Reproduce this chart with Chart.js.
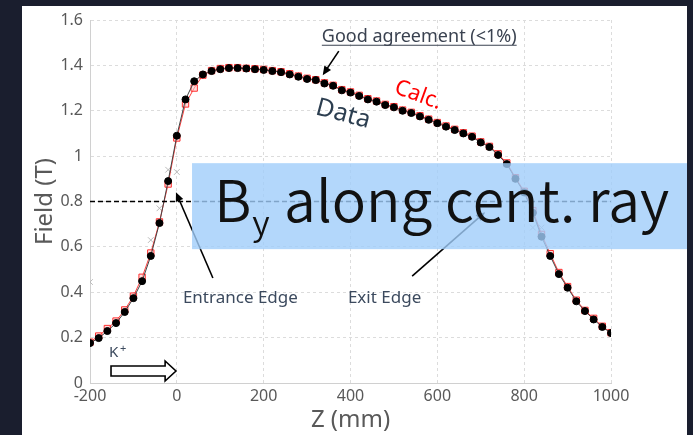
<!DOCTYPE html>
<html lang="en">
<head>
<meta charset="UTF-8">
<title>By along cent. ray</title>
<style>
  body { margin: 0; background: #1a1e2e; }
  canvas { display: block; }
</style>
<script src="https://cdn.jsdelivr.net/npm/chart.js"></script>
</head>
<body>
<canvas id="chart" width="693" height="435"></canvas>
<script>
// Z positions (mm) of the measured / calculated points
const zPos = [-200, -180, -160, -140, -120, -100, -80, -60, -40, -20,
  0, 20, 40, 60, 80, 100, 120, 140, 160, 180,
  200, 220, 240, 260, 280, 300, 320, 340, 360, 380,
  400, 420, 440, 460, 480, 500, 520, 540, 560, 580,
  600, 620, 640, 660, 680, 700, 720, 740, 760, 780,
  800, 820, 840, 860, 880, 900, 920, 940, 960, 980, 1000];

// measured field (T)
const dataField = [0.176, 0.198, 0.229, 0.264, 0.313, 0.374, 0.449, 0.56, 0.705, 0.89,
  1.09, 1.25, 1.33, 1.36, 1.375, 1.383, 1.388, 1.388, 1.386, 1.383,
  1.38, 1.375, 1.37, 1.36, 1.35, 1.34, 1.335, 1.32, 1.31, 1.29,
  1.28, 1.265, 1.25, 1.24, 1.225, 1.215, 1.20, 1.19, 1.175, 1.16,
  1.145, 1.13, 1.115, 1.10, 1.085, 1.06, 1.04, 1.005, 0.965, 0.90,
  0.84, 0.75, 0.645, 0.56, 0.48, 0.42, 0.36, 0.317, 0.28, 0.247, 0.22];

// calculated field (T)
const calcField = [0.18, 0.207, 0.24, 0.273, 0.322, 0.383, 0.466, 0.573, 0.71, 0.877,
  1.08, 1.23, 1.30, 1.357, 1.377, 1.386, 1.39, 1.39, 1.387, 1.385,
  1.382, 1.377, 1.372, 1.363, 1.353, 1.343, 1.337, 1.323, 1.312, 1.293,
  1.283, 1.268, 1.253, 1.243, 1.228, 1.218, 1.203, 1.193, 1.178, 1.163,
  1.148, 1.133, 1.118, 1.103, 1.088, 1.063, 1.043, 1.01, 0.97, 0.905,
  0.845, 0.76, 0.655, 0.57, 0.487, 0.425, 0.365, 0.32, 0.285, 0.25, 0.222];

// faint grey crosses (older run)
const greyZ = [-200, -60, -40, -20, 0, 820, 840];
const greyField = [0.445, 0.63, 0.77, 0.94, 0.93, 0.685, 0.685];

const toPoints = (xs, ys) => xs.map((z, i) => ({ x: z, y: ys[i] }));

const decor = {
    id: 'decor',
    beforeDraw(chart) {
        const ctx = chart.ctx;
        ctx.save();
        ctx.fillStyle = '#1a1e2e';
        ctx.fillRect(0, 0, chart.width, chart.height);
        ctx.fillStyle = '#ffffff';
        ctx.fillRect(22, 6, 665, chart.height - 6);
        ctx.restore();
    },
    afterDatasetsDraw(chart) {
        const { ctx, scales: { x, y } } = chart;
        const X = v => x.getPixelForValue(v);
        const Y = v => y.getPixelForValue(v);

        function arrow(x1, y1, x2, y2) {
            const a = Math.atan2(y2 - y1, x2 - x1);
            ctx.beginPath();
            ctx.moveTo(x1, y1);
            ctx.lineTo(x2 - 6 * Math.cos(a), y2 - 6 * Math.sin(a));
            ctx.stroke();
            ctx.beginPath();
            ctx.moveTo(x2, y2);
            ctx.lineTo(x2 - 9 * Math.cos(a) + 4 * Math.sin(a), y2 - 9 * Math.sin(a) - 4 * Math.cos(a));
            ctx.lineTo(x2 - 9 * Math.cos(a) - 4 * Math.sin(a), y2 - 9 * Math.sin(a) + 4 * Math.cos(a));
            ctx.closePath();
            ctx.fill();
        }

        ctx.save();
        // 0.8 T reference line
        ctx.strokeStyle = '#000';
        ctx.lineWidth = 1.5;
        ctx.setLineDash([5, 3]);
        ctx.beginPath();
        ctx.moveTo(X(-200), Y(0.8));
        ctx.lineTo(X(1000), Y(0.8));
        ctx.stroke();
        ctx.setLineDash([]);

        // arrows
        ctx.fillStyle = '#000';
        ctx.lineWidth = 1.6;
        arrow(X(373), Y(1.4626), X(336), Y(1.357));
        arrow(X(83), Y(0.4626), X(-2), Y(0.841));
        arrow(X(542), Y(0.471), X(710), Y(0.753));

        // labels
        ctx.font = '18px "Noto Sans"';
        ctx.fillStyle = '#3a4250';
        ctx.textBaseline = 'alphabetic';
        const ga = 'Good agreement (<1%)';
        const gx = X(334), gy = Y(1.502);
        ctx.fillText(ga, gx, gy);
        const gw = ctx.measureText(ga).width;
        ctx.strokeStyle = '#3a4250';
        ctx.lineWidth = 1.2;
        ctx.beginPath();
        ctx.moveTo(gx, gy + 3);
        ctx.lineTo(gx + gw, gy + 3);
        ctx.stroke();

        ctx.fillStyle = '#3c4a5e';
        ctx.font = '17px "Noto Sans"';
        ctx.fillText('Entrance Edge', X(14), Y(0.352));
        ctx.fillText('Exit Edge', X(394), Y(0.352));
        ctx.font = '15px "Noto Sans"';
        ctx.fillText('K', X(-156), Y(0.1145));
        ctx.font = '11px "Noto Sans"';
        ctx.fillText('+', X(-156) + 11, Y(0.1145) - 5);

        ctx.save();
        ctx.translate(X(556), Y(1.269));
        ctx.rotate(20 * Math.PI / 180);
        ctx.textAlign = 'center';
        ctx.textBaseline = 'middle';
        ctx.fillStyle = '#ff0000';
        ctx.font = '22px "Noto Sans"';
        ctx.fillText('Calc.', 0, 0);
        ctx.restore();

        ctx.save();
        ctx.translate(X(383), Y(1.185));
        ctx.rotate(15 * Math.PI / 180);
        ctx.textAlign = 'center';
        ctx.textBaseline = 'middle';
        ctx.fillStyle = '#2c3e50';
        ctx.font = '25px "Noto Sans"';
        ctx.fillText('Data', 0, 0);
        ctx.restore();

        // hollow K+ direction arrow
        const x0 = X(-151.6), xb = X(-27), xt = X(-2), yc = Y(0.053);
        ctx.beginPath();
        ctx.moveTo(x0, yc - 5);
        ctx.lineTo(xb, yc - 5);
        ctx.lineTo(xb, yc - 10);
        ctx.lineTo(xt, yc);
        ctx.lineTo(xb, yc + 10);
        ctx.lineTo(xb, yc + 5);
        ctx.lineTo(x0, yc + 5);
        ctx.closePath();
        ctx.fillStyle = '#fff';
        ctx.fill();
        ctx.strokeStyle = '#000';
        ctx.lineWidth = 1.6;
        ctx.stroke();

        // title box
        ctx.fillStyle = 'rgba(160, 205, 250, 0.8)';
        const bx = X(35), by = Y(0.969);
        ctx.fillRect(bx, by, chart.width - 6 - bx, Y(0.59) - by);
        ctx.fillStyle = '#111';
        ctx.font = '350 57px "Noto Sans CJK JP"';
        const bX = X(86), base = Y(0.709);
        ctx.fillText('B', bX, base);
        const bw = ctx.measureText('B').width;
        ctx.font = '350 34px "Noto Sans CJK JP"';
        ctx.fillText('y', bX + bw + 1, base + 13);
        ctx.font = '350 57px "Noto Sans CJK JP"';
        ctx.fillText('along cent. ray', X(247), base);
        ctx.restore();
    }
};

new Chart(document.getElementById('chart'), {
    type: 'line',
    data: {
        datasets: [
            {
                label: 'Data',
                data: toPoints(zPos, dataField),
                borderColor: '#444',
                borderWidth: 1,
                pointStyle: 'circle',
                pointRadius: 3.5,
                pointBackgroundColor: '#000',
                pointBorderColor: '#000',
                order: 1
            },
            {
                label: 'Calc.',
                data: toPoints(zPos, calcField),
                borderColor: '#ff4040',
                borderWidth: 1,
                pointStyle: 'rect',
                pointRadius: 4.5,
                pointBackgroundColor: 'rgba(255, 200, 200, 0.6)',
                pointBorderColor: '#ff3030',
                pointBorderWidth: 1,
                order: 2
            },
            {
                label: 'old',
                data: toPoints(greyZ, greyField),
                showLine: false,
                pointStyle: 'crossRot',
                pointRadius: 4,
                pointBorderColor: '#bbbbbb',
                pointBorderWidth: 1,
                order: 3
            }
        ]
    },
    options: {
        responsive: false,
        animation: false,
        devicePixelRatio: 1,
        layout: { padding: { left: 22, right: 82, top: 20, bottom: 0 } },
        plugins: { legend: { display: false }, tooltip: { enabled: false } },
        scales: {
            x: {
                type: 'linear',
                min: -200,
                max: 1000,
                afterFit: s => { s.height = 52; },
                ticks: {
                    stepSize: 200,
                    color: '#595959',
                    font: { family: 'Noto Sans', size: 16 },
                    padding: 4,
                    maxRotation: 0,
                    callback: v => String(v)
                },
                grid: { color: '#dcdcdc', drawTicks: false },
                border: { color: '#d0d0d0', dash: [3, 3] },
                title: { display: true, text: 'Z (mm)', color: '#595959', font: { family: 'Noto Sans', size: 24 }, padding: 0 }
            },
            y: {
                min: 0,
                max: 1.6,
                afterFit: s => { s.width = 68; },
                ticks: {
                    stepSize: 0.2,
                    color: '#595959',
                    font: { family: 'Noto Sans', size: 16 },
                    padding: 7,
                    callback: v => String(+v.toFixed(1))
                },
                grid: { color: '#dcdcdc', drawTicks: false },
                border: { color: '#d0d0d0', dash: [3, 3] },
                title: { display: true, text: 'Field (T)', color: '#595959', font: { family: 'Noto Sans', size: 24 }, padding: { top: 9 } }
            }
        }
    },
    plugins: [decor]
});
</script>
</body>
</html>
